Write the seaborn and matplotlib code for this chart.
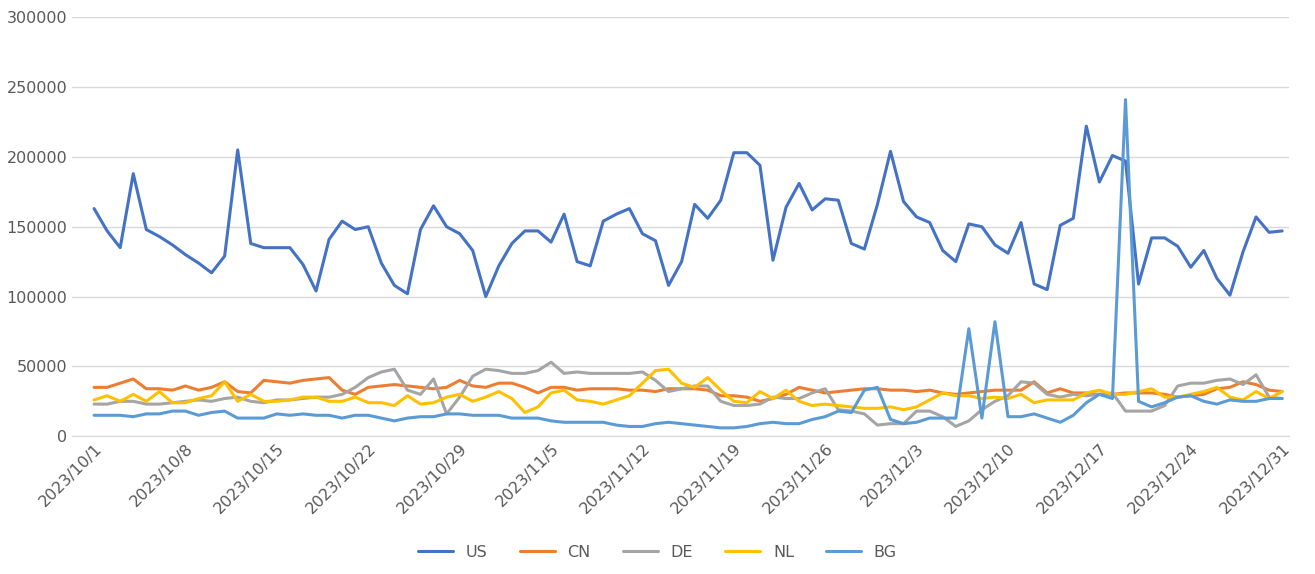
import matplotlib
matplotlib.use("Agg")
import matplotlib.pyplot as plt
import seaborn as sns
import pandas as pd
import numpy as np

dates = pd.date_range("2023-10-01", "2023-12-31", freq="D")
US = [163,147,135,188,148,143,137,130,124,117, 129,205,138,135,135,135,123,104,141,154, 148,150,124,108,102,148,165,150,145,133, 100,
      122,138,147,147,139,159,125,122,154,159, 163,145,140,108,125,166,156,169,203,203, 194,126,164,181,162,170,169,138,134,166,
      204,168,157,153,133,125,152,150,137,131, 153,109,105,151,156,222,182,201,197,109, 142,142,136,121,133,113,101,132,157,146, 147]
CN = [35,35,38,41,34,34,33,36,33,35, 39,32,31,40,39,38,40,41,42,33, 30,35,36,37,36,35,34,35,40,36, 35,
      38,38,35,31,35,35,33,34,34,34, 33,33,32,34,34,34,33,29,29,28, 25,27,30,35,33,31,32,33,34,34,
      33,33,32,33,31,30,31,32,33,33, 33,39,31,34,31,31,30,30,31,31, 31,30,28,29,30,34,35,39,37,33, 32]
DE = [23,23,25,25,23,23,24,25,26,25, 27,28,25,24,26,26,27,28,28,30, 35,42,46,48,33,30,41,16,28,43, 48,
      47,45,45,47,53,45,46,45,45,45, 45,46,40,32,34,36,36,25,22,22, 23,28,27,27,31,34,19,18,16,8,
      9,9,18,18,14,7,11,19,25,29, 39,38,30,28,30,29,30,31,18,18, 18,22,36,38,38,40,41,37,44,28, 27]
NL = [26,29,25,30,25,32,24,24,27,29, 39,25,30,25,25,26,28,28,25,25, 28,24,24,22,29,23,24,28,30,25, 28,
      32,27,17,21,31,33,26,25,23,26, 29,38,47,48,38,35,42,33,25,24, 32,27,33,25,22,23,22,21,20,20,
      21,19,21,26,31,29,29,27,28,27, 30,24,26,26,26,31,33,30,30,32, 34,28,28,30,32,35,28,26,32,27, 32]
BG = [15,15,15,14,16,16,18,18,15,17, 18,13,13,13,16,15,16,15,15,13, 15,15,13,11,13,14,14,16,16,15, 15,
      15,13,13,13,11,10,10,10,10,8, 7,7,9,10,9,8,7,6,6,7, 9,10,9,9,12,14,18,17,33,35,
      12,9,10,13,13,13,77,13,82,14, 14,16,13,10,15,24,30,27,241,25, 21,24,28,29,25,23,26,25,25,27, 27]
series = {"US": US, "CN": CN, "DE": DE, "NL": NL, "BG": BG}
colors = {"US": "#4472C4", "CN": "#ED7D31", "DE": "#A5A5A5", "NL": "#FFC000", "BG": "#5B9BD5"}

rows = []
for k, v in series.items():
    for d, val in zip(dates, v):
        rows.append({"date": d, "value": val * 1000, "series": k})
df = pd.DataFrame(rows)

sns.set_style("white")
fig, ax = plt.subplots(figsize=(13.15, 5.74), dpi=100)
sns.lineplot(data=df, x="date", y="value", hue="series", palette=colors, linewidth=2.2, ax=ax, legend=False)
ax.set_ylim(0, 300000)
ax.set_yticks(range(0, 300001, 50000))
ax.set_xlim(dates[0] - pd.Timedelta(hours=40), dates[-1] + pd.Timedelta(hours=12))
ticks = dates[::7]
ax.set_xticks(ticks)
ax.set_xticklabels([f"{d.year}/{d.month}/{d.day}" for d in ticks], rotation=45, ha="right", rotation_mode="anchor")
ax.tick_params(labelsize=11.5, colors="#595959", length=0)
ax.grid(axis="y", color="#D9D9D9", linewidth=1)
for s in ["top", "right", "left"]:
    ax.spines[s].set_visible(False)
ax.spines["bottom"].set_color("#D9D9D9")
ax.set_xlabel(""); ax.set_ylabel("")
from matplotlib.lines import Line2D
handles = [Line2D([], [], color=colors[k], lw=2.2) for k in series]
fig.legend(handles, list(series), loc="lower center", ncol=5, frameon=False, fontsize=11.5,
           labelcolor="#595959", bbox_to_anchor=(0.5, 0.0), handlelength=2.2, columnspacing=2)
fig.subplots_adjust(left=0.055, right=0.98, top=0.97, bottom=0.24)
fig.savefig("out.png")
